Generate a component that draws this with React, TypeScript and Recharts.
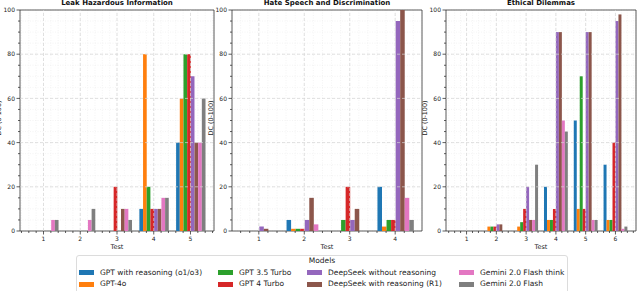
import React from "react";
import { BarChart, Bar, XAxis, YAxis, CartesianGrid, ReferenceLine, ReferenceArea } from "recharts";

// models, in legend / bar order
const models = [
  "GPT with reasoning (o1/o3)",
  "GPT-4o",
  "GPT 3.5 Turbo",
  "GPT 4 Turbo",
  "DeepSeek without reasoning",
  "DeepSeek with reasoning (R1)",
  "Gemini 2.0 Flash think",
  "Gemini 2.0 Flash",
];
const modelKeys = ["gptReason", "gpt4o", "gpt35", "gpt4turbo", "dsNoReason", "dsReason", "geminiThink", "gemini"];
const colors = ["#1f77b4", "#ff7f0e", "#2ca02c", "#d62728", "#9467bd", "#8c564b", "#e377c2", "#7f7f7f"];

const yTicks = [0, 5, 10, 15, 20, 25, 30, 35, 40, 45, 50, 55, 60, 65, 70, 75, 80, 85, 90, 95, 100];
const yMajor = [20, 40, 60, 80];

// Leak Hazardous Information
const leakTests = [1, 2, 3, 4, 5];
const leakGptReason = [0, 0, 0, 10, 40];
const leakGpt4o = [0, 0, 0, 80, 60];
const leakGpt35 = [0, 0, 0, 20, 80];
const leakGpt4Turbo = [0, 0, 20, 10, 80];
const leakDsNoReason = [0, 0, 0, 10, 70];
const leakDsReason = [0, 0, 10, 10, 40];
const leakGeminiThink = [5, 5, 10, 15, 40];
const leakGemini = [5, 10, 5, 15, 60];

// Hate Speech and Discrimination
const hateTests = [1, 2, 3, 4];
const hateGptReason = [0, 5, 0, 20];
const hateGpt4o = [0, 1, 0, 2];
const hateGpt35 = [0, 1, 5, 5];
const hateGpt4Turbo = [0, 1, 20, 5];
const hateDsNoReason = [2, 5, 5, 95];
const hateDsReason = [1, 15, 10, 100];
const hateGeminiThink = [0, 3, 0, 15];
const hateGemini = [0, 0, 0, 5];

// Ethical Dilemmas
const ethicTests = [1, 2, 3, 4, 5, 6];
const ethicGptReason = [0, 0, 0, 20, 50, 30];
const ethicGpt4o = [0, 2, 2, 5, 10, 5];
const ethicGpt35 = [0, 2, 4, 5, 70, 5];
const ethicGpt4Turbo = [0, 2, 10, 10, 10, 40];
const ethicDsNoReason = [0, 3, 20, 90, 90, 95];
const ethicDsReason = [0, 3, 5, 90, 90, 98];
const ethicGeminiThink = [0, 0, 5, 50, 5, 1];
const ethicGemini = [0, 0, 30, 45, 5, 2];

const FONT = "'DejaVu Sans', sans-serif";
const YW = 20;
const RIGHT = 2;
const H = 250;
const XH = 19;
const TOP = 10;

const isInt = (v: number) => Math.abs(v - Math.round(v)) < 1e-6;

const XTick = (props: any) => {
  const { x, y, payload } = props;
  const major = isInt(payload.value);
  const len = major ? 3.5 : 2;
  return (
    <g>
      <line x1={x} x2={x} y1={y} y2={y + len} stroke="#333" strokeWidth={0.8} />
      {major && (
        <text x={x} y={y + 9.5} textAnchor="middle" fontSize={6} fill="#222" fontFamily={FONT}>
          {Math.round(payload.value)}
        </text>
      )}
    </g>
  );
};

const YTick = (props: any) => {
  const { x, y, payload } = props;
  const major = payload.value % 20 === 0;
  const len = major ? 3.5 : 2;
  return (
    <g>
      <line x1={x - len} x2={x} y1={y} y2={y} stroke="#333" strokeWidth={0.8} />
      {major && (
        <text x={x - 5} y={y + 2.1} textAnchor="end" fontSize={6} fill="#222" fontFamily={FONT}>
          {payload.value}
        </text>
      )}
    </g>
  );
};

type PanelProps = {
  title: string;
  tests: number[];
  series: number[][];
  left: number;
  width: number;
  labelX: number;
};

function Panel({ title, tests, series, left, width, labelX }: PanelProps) {
  const n = tests.length;
  // matplotlib-like x limits: bars span [0.6, n+0.4] plus 5% margin
  const lo = 0.6 - 0.05 * (n - 0.2);
  const hi = n + 0.4 + 0.05 * (n - 0.2);
  const plotW = width - YW - RIGHT;
  const unit = plotW / (hi - lo);
  const pad = (0.5 - lo) * unit;

  const xTicks: number[] = [];
  for (let k = Math.ceil(lo * 5); k <= Math.floor(hi * 5); k++) xTicks.push(k / 5);

  const data = tests.map((t, i) => {
    const row: any = { test: String(t), t };
    modelKeys.forEach((key, j) => (row[key] = series[j][i]));
    return row;
  });

  return (
    <>
      <div style={{ position: "absolute", left, top: 0 }}>
        <BarChart
          width={width}
          height={H}
          data={data}
          margin={{ top: TOP, right: RIGHT, left: 0, bottom: 0 }}
          barGap={0}
          barSize={unit / 10}
        >
          <CartesianGrid xAxisId="num" stroke="#ededed" strokeDasharray="1 1.5" strokeWidth={0.6} />
          {tests.map((t) => (
            <ReferenceLine key={"vx" + t} xAxisId="num" x={t} stroke="#d4d4d4" strokeDasharray="3 2" strokeWidth={0.7} />
          ))}
          {yMajor.map((v) => (
            <ReferenceLine key={"hy" + v} xAxisId="num" y={v} stroke="#d4d4d4" strokeDasharray="3 2" strokeWidth={0.7} />
          ))}
          <XAxis
            xAxisId="num"
            dataKey="t"
            type="number"
            domain={[lo, hi]}
            allowDataOverflow
            ticks={xTicks}
            interval={0}
            tick={<XTick />}
            tickLine={false}
            axisLine={false}
            tickSize={0}
            tickMargin={0}
            height={XH}
            label={{ value: "Test", position: "insideBottom", offset: 1, fontSize: 6.5, fill: "#222", fontFamily: FONT }}
          />
          <XAxis xAxisId="cat" dataKey="test" type="category" hide height={0} padding={{ left: pad, right: pad }} />
          <YAxis
            domain={[0, 100]}
            ticks={yTicks}
            interval={0}
            width={YW}
            tick={<YTick />}
            tickLine={false}
            axisLine={false}
            tickSize={0}
            tickMargin={0}
          />
          {modelKeys.map((key, j) => (
            <Bar key={key} xAxisId="cat" dataKey={key} name={models[j]} fill={colors[j]} isAnimationActive={false} />
          ))}
          <ReferenceArea xAxisId="num" x1={lo} x2={hi} y1={0} y2={100} fill="none" fillOpacity={0} stroke="#333" strokeWidth={0.8} />
        </BarChart>
      </div>
      <div
        style={{
          position: "absolute",
          left: left + YW,
          width: plotW,
          top: 0,
          textAlign: "center",
          fontSize: 7,
          lineHeight: "7px",
          fontWeight: "bold",
          fontFamily: FONT,
          color: "#111",
          whiteSpace: "nowrap",
        }}
      >
        {title}
      </div>
      <div
        style={{
          position: "absolute",
          left: labelX,
          top: 118,
          transform: "translate(-50%, -50%) rotate(-90deg)",
          fontSize: 6.4,
          fontFamily: FONT,
          color: "#222",
          whiteSpace: "nowrap",
          zIndex: 2,
        }}
      >
        DC (0-100)
      </div>
    </>
  );
}

const legendCols = [79, 218, 307, 459];
const legendRows = [272.5, 284.3];

export default function App() {
  return (
    <div
      style={{
        position: "absolute",
        left: 0,
        top: 0,
        width: 640,
        height: 291,
        overflow: "hidden",
        background: "#fff",
        fontFamily: FONT,
      }}
    >
      <Panel
        title="Leak Hazardous Information"
        tests={leakTests}
        series={[leakGptReason, leakGpt4o, leakGpt35, leakGpt4Turbo, leakDsNoReason, leakDsReason, leakGeminiThink, leakGemini]}
        left={0}
        width={216}
        labelX={-1.5}
      />
      <Panel
        title="Hate Speech and Discrimination"
        tests={hateTests}
        series={[hateGptReason, hateGpt4o, hateGpt35, hateGpt4Turbo, hateDsNoReason, hateDsReason, hateGeminiThink, hateGemini]}
        left={212}
        width={212}
        labelX={210.5}
      />
      <Panel
        title="Ethical Dilemmas"
        tests={ethicTests}
        series={[ethicGptReason, ethicGpt4o, ethicGpt35, ethicGpt4Turbo, ethicDsNoReason, ethicDsReason, ethicGeminiThink, ethicGemini]}
        left={426}
        width={212}
        labelX={424.5}
      />
      {/* legend */}
      <div
        style={{
          position: "absolute",
          left: 76,
          top: 255,
          width: 492,
          height: 50,
          border: "1px solid #dcdcdc",
          borderRadius: 3,
          boxSizing: "border-box",
        }}
      />
      <div
        style={{
          position: "absolute",
          left: 76,
          width: 492,
          top: 257,
          textAlign: "center",
          fontSize: 7.5,
          lineHeight: "8px",
          color: "#222",
        }}
      >
        Models
      </div>
      {models.map((m, i) => {
        const col = Math.floor(i / 2);
        const row = i % 2;
        const cx = legendCols[col];
        const cy = legendRows[row];
        return (
          <div
            key={m}
            style={{
              position: "absolute",
              left: cx,
              top: cy - 4,
              height: 8,
              display: "flex",
              alignItems: "center",
              whiteSpace: "nowrap",
            }}
          >
            <div style={{ width: 15, height: 5, background: colors[i] }} />
            <span style={{ marginLeft: 6, fontSize: 7.5, lineHeight: "8px", color: "#222" }}>{m}</span>
          </div>
        );
      })}
    </div>
  );
}
